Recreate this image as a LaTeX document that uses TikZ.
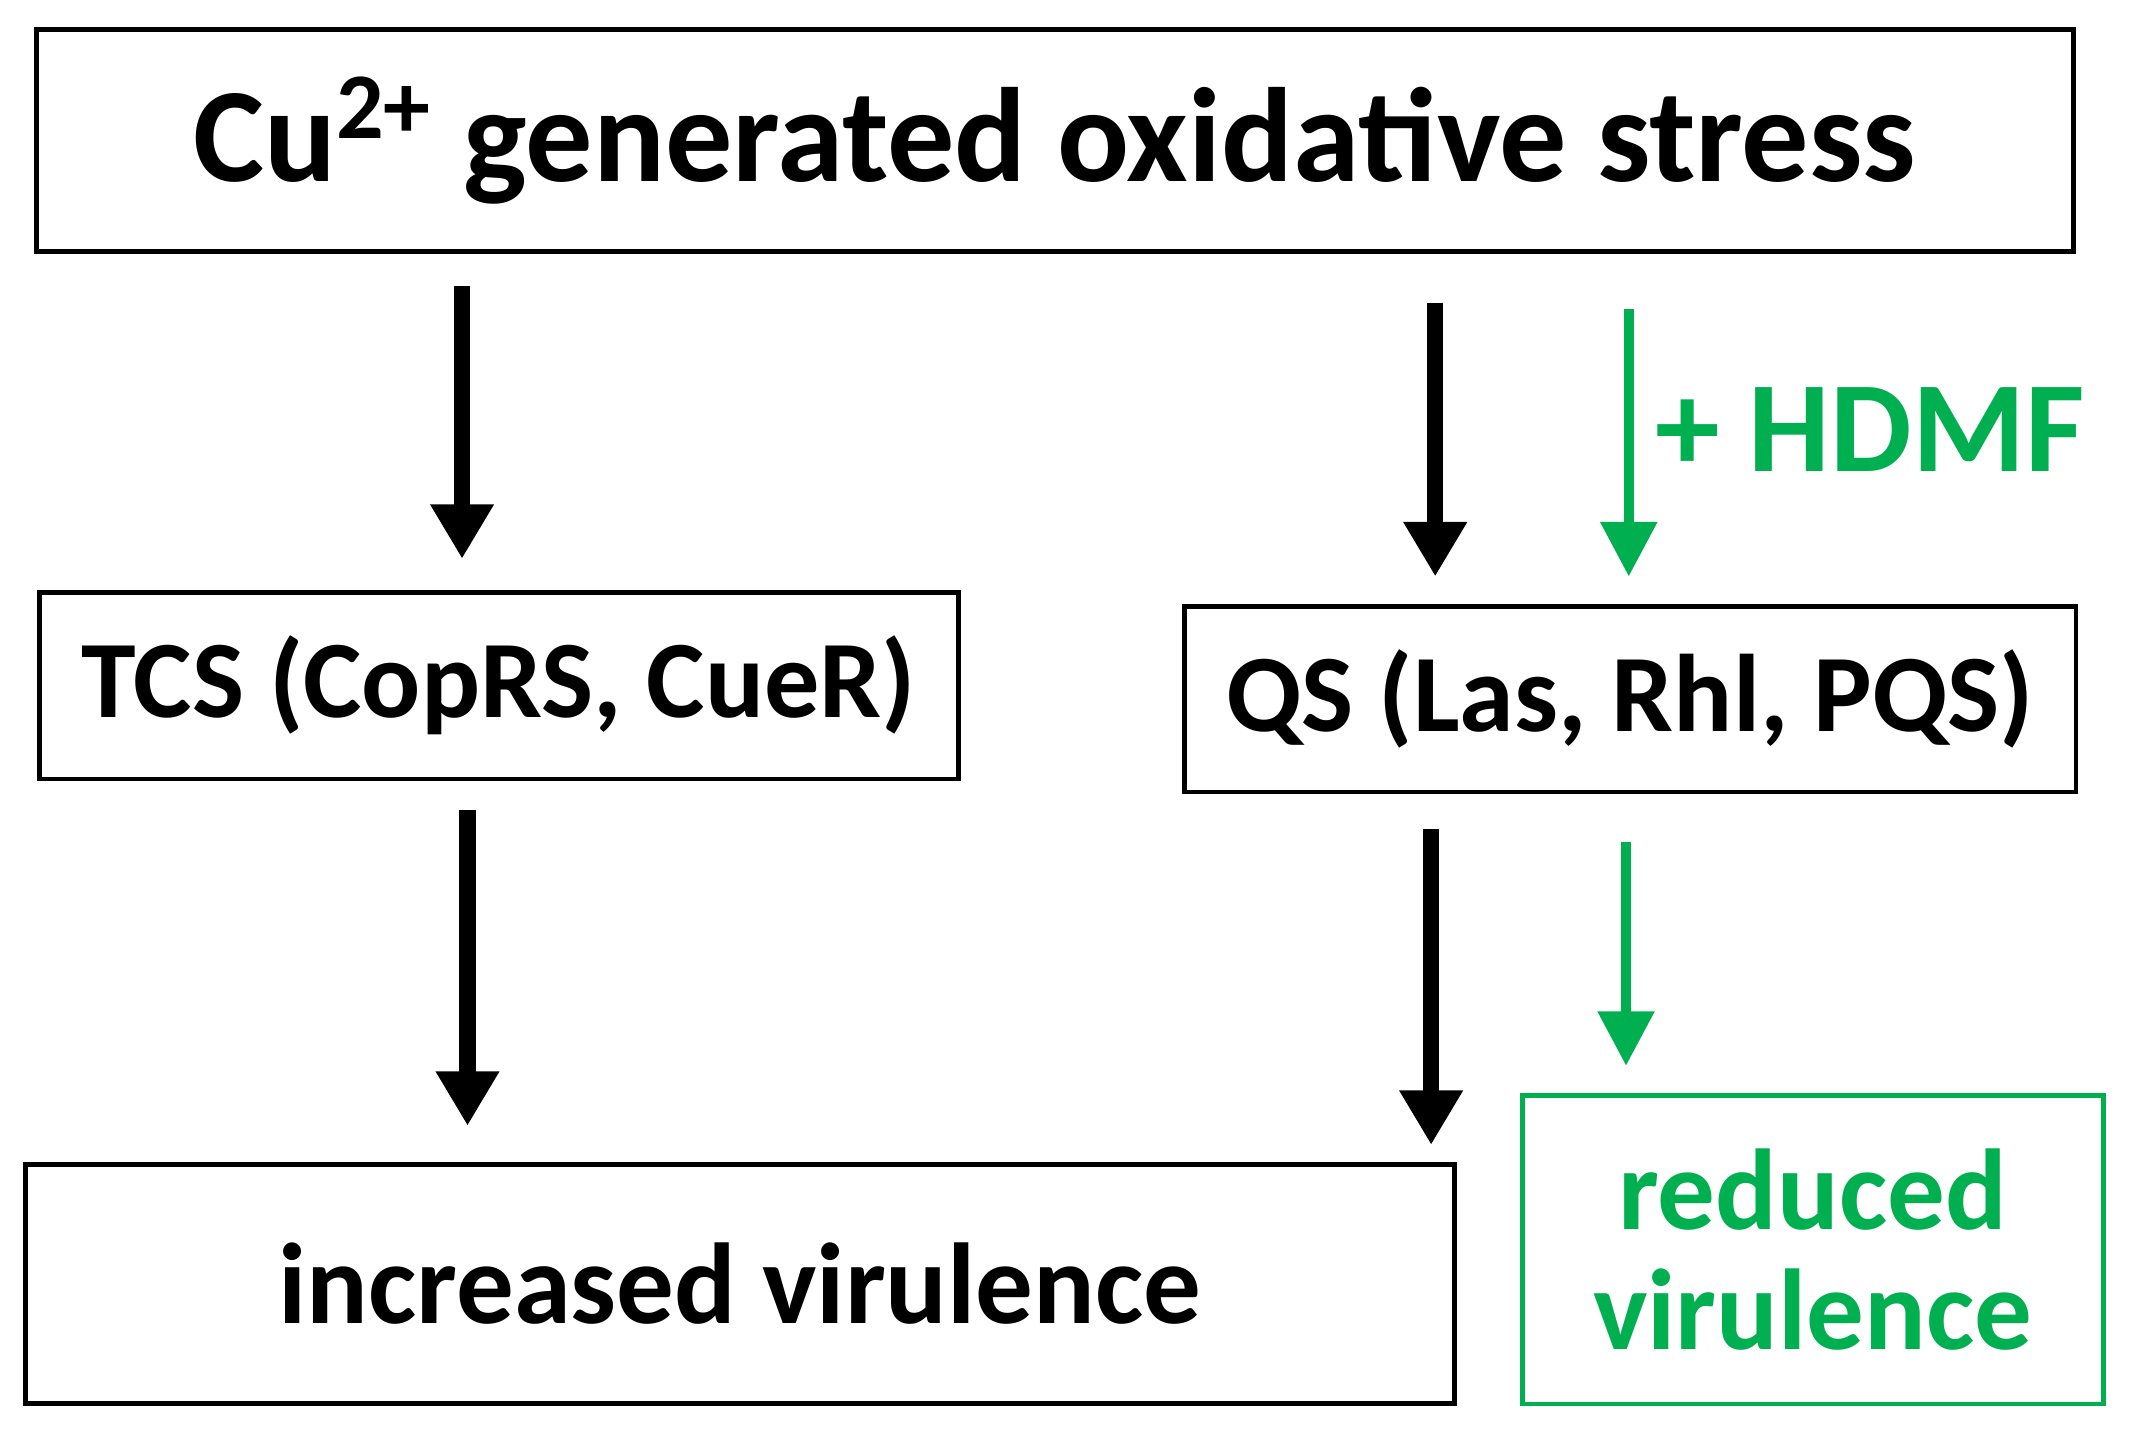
\documentclass[tikz,border=0pt]{standalone}
\usepackage{fontspec}
\setmainfont{Carlito}
\usetikzlibrary{arrows.meta, positioning}
\definecolor{hgreen}{RGB}{0,176,80}
\tikzstyle{line} = [draw, -{Triangle[length=4mm,width=4.4mm]}, line width=1.2mm]
\tikzstyle{gline} = [draw=hgreen, -{Triangle[length=4mm,width=4mm]}, line width=0.75mm, hgreen]

\begin{document}
\begin{tikzpicture}[x=0.01cm, y=-0.01cm, box/.style={rectangle, draw=black, line width=0.35mm, font=\bfseries, inner sep=0pt}]
    \useasboundingbox (0,0) rectangle (1562,1061);

    \node[box, minimum width=14.94cm, minimum height=1.63cm, font=\bfseries\fontsize{28}{32}\selectfont] (stress) at (774,103) {Cu\textsuperscript{2+} generated oxidative stress};
    \node[box, minimum width=6.74cm, minimum height=1.37cm, font=\bfseries\fontsize{23}{27}\selectfont] (tcs) at (366,503) {TCS (CopRS, CueR)};
    \node[box, minimum width=6.54cm, minimum height=1.36cm, font=\bfseries\fontsize{23}{27}\selectfont] (qs) at (1196,513) {QS (Las, Rhl, PQS)};
    \node[box, minimum width=10.48cm, minimum height=1.75cm, font=\bfseries\fontsize{24}{28}\selectfont] (incr) at (543,942) {increased virulence};
    \node[box, draw=hgreen, text=hgreen, minimum width=4.26cm, minimum height=2.26cm, align=center, font=\bfseries\fontsize{24}{25}\selectfont] (red) at (1330,917) {reduced\\virulence};

    \coordinate (a1) at (339,210); \coordinate (b1) at (339,410);
    \coordinate (a2) at (1053,222); \coordinate (b2) at (1053,423);
    \coordinate (a3) at (1195,227); \coordinate (b3) at (1195,423);
    \coordinate (a4) at (343,594); \coordinate (b4) at (343,826);
    \coordinate (a5) at (1050,608); \coordinate (b5) at (1050,840);
    \coordinate (a6) at (1193,618); \coordinate (b6) at (1193,782);

    \draw[line] (a1) -- (b1);
    \draw[line] (a2) -- (b2);
    \draw[line] (a4) -- (b4);
    \draw[line] (a5) -- (b5);
    \draw[gline] (a3) -- (b3);
    \draw[gline] (a6) -- (b6);

    \node[anchor=west, text=hgreen, font=\bfseries\fontsize{27}{30}\selectfont] (hdmf) at (1202,315) {+ HDMF};
\end{tikzpicture}
\end{document}
